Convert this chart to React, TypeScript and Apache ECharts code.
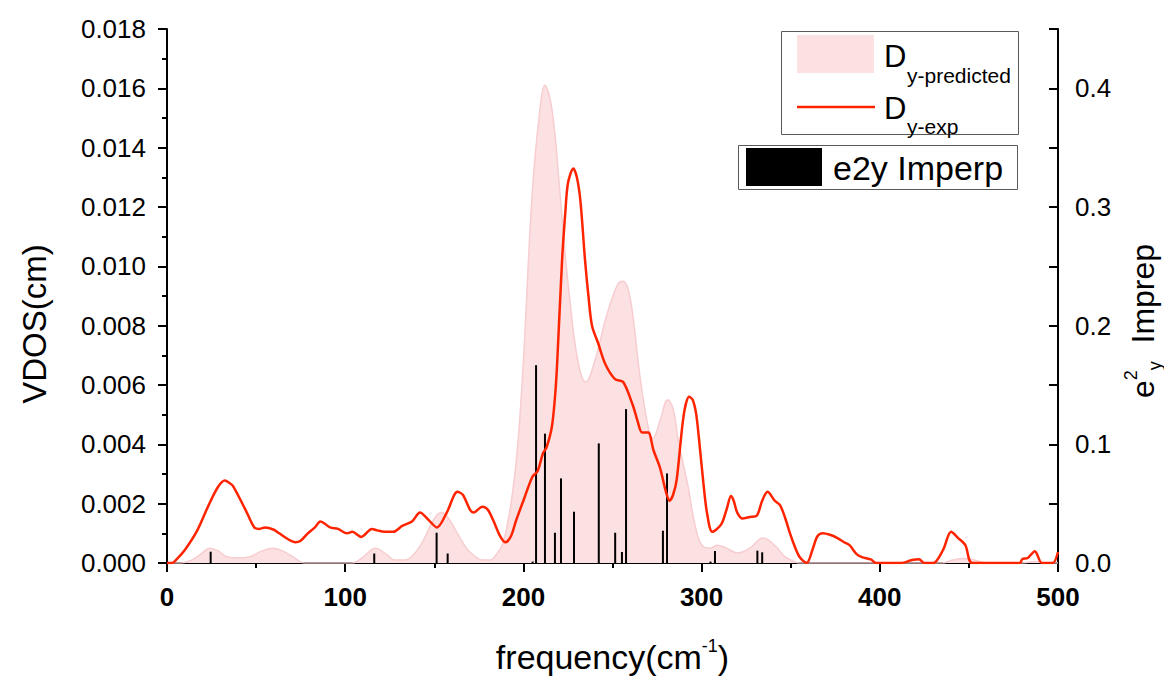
import React, { useEffect, useRef } from "react";
import * as echarts from "echarts";

const FONT = '"Liberation Sans", Arial, Helvetica, sans-serif';

// x tick values (cm^-1)
const xTicks = [0, 100, 200, 300, 400, 500];

// D_y-exp (red line): [frequency, VDOS]
const expData: [number, number][] = [
  [0, 0], [3, 0], [5, 0.0001], [10, 0.00044], [17, 0.0011], [23, 0.0019], [28.6, 0.00256],
  [32.5, 0.00278], [35, 0.0027], [37, 0.0026], [44, 0.0018], [49, 0.0012], [52, 0.00115],
  [55, 0.0012], [60, 0.00112], [63, 0.001], [68, 0.0008], [72, 0.0007], [75, 0.00075],
  [79, 0.001], [83, 0.0012], [86, 0.0014], [88, 0.00135], [91.5, 0.0012], [96, 0.00115],
  [101, 0.001], [104, 0.00105], [109, 0.00088], [115, 0.00115], [118, 0.0011], [122, 0.00105],
  [127, 0.00105], [132, 0.00125], [137.5, 0.0014], [142, 0.0017], [146, 0.0015], [151.5, 0.0012],
  [157, 0.0017], [163, 0.0024], [166, 0.0023], [170, 0.0018], [172, 0.0017], [177, 0.0019],
  [180, 0.0018], [183, 0.00145], [187, 0.0009], [190, 0.0007], [193, 0.0009], [196, 0.00145],
  [200, 0.0021], [205, 0.0029], [208, 0.0031], [211, 0.0037], [213, 0.0039], [216, 0.0046],
  [218, 0.0058], [219, 0.0068], [221.7, 0.0102], [223.5, 0.0118], [225, 0.0128], [228, 0.0133],
  [230, 0.013], [232, 0.0122], [234.6, 0.0102], [236.5, 0.009], [238.5, 0.008], [242, 0.0074],
  [246, 0.0067], [251.4, 0.0062], [256, 0.0061], [261.5, 0.0053], [264, 0.0048], [266.6, 0.0044],
  [270, 0.0044], [273, 0.0038], [276.7, 0.0032], [280, 0.0024], [282, 0.0021], [284, 0.0023],
  [286, 0.0028], [290, 0.005], [293, 0.0056], [295, 0.0055], [297, 0.005], [299, 0.0039],
  [301, 0.0027], [303, 0.0017], [306, 0.00105], [311, 0.0013], [314, 0.0018], [316.5, 0.00226],
  [318, 0.0021], [320, 0.0017], [323, 0.0015], [327, 0.00155], [331, 0.0016], [334, 0.0021],
  [337, 0.0024], [341, 0.0021], [344, 0.00195], [347, 0.0015], [349.6, 0.001], [352, 0.0006],
  [355, 0.0002], [359, 0], [362.5, 0.0005], [365, 0.0009], [368, 0.001], [372, 0.00095],
  [376, 0.00085], [380, 0.0007], [383, 0.0006], [387, 0.0003], [390, 0.0002], [395, 0.00012],
  [398, 0], [412, 0], [418, 0.0001], [422, 0.00013], [425, 0], [430, 0], [435.5, 0.00044],
  [440, 0.00105], [444, 0.00084], [448, 0.0006], [452, 0], [478.5, 0], [480, 0.00013],
  [483, 0.00017], [487, 0.0004], [491, 0], [497, 0], [500, 0.00037],
];

// D_y-predicted (pink area): [frequency, VDOS]
const predData: [number, number][] = [
  [0, 0], [8, 0], [14, 0.0001], [19, 0.0003], [24, 0.0005], [29, 0.0004], [34, 0.0002],
  [40, 0.00017], [46, 0.0002], [53, 0.0004], [59.5, 0.0005], [65, 0.0004], [71, 0.0002],
  [77, 0], [104, 0], [110, 0.0002], [117, 0.0005], [123, 0.0003], [128, 0.0001], [133.5, 0.0001],
  [140, 0.0004], [145, 0.0009], [150, 0.0015], [154, 0.0017], [158, 0.0015], [163, 0.001],
  [168, 0.0005], [172, 0.00027], [177, 0.0001], [181, 0.0001], [185, 0.0003], [188, 0.0006],
  [191, 0.0013], [194, 0.0024], [197, 0.0041], [200, 0.0068], [205, 0.0125], [209.3, 0.0153],
  [212, 0.0161], [216, 0.0153], [220.5, 0.0125], [223, 0.0107], [226, 0.0089], [230.6, 0.0068],
  [235, 0.0061], [240, 0.0068], [247, 0.0084], [253, 0.0094], [256, 0.0095], [260, 0.0089],
  [265.4, 0.0063], [270, 0.0046], [272.7, 0.0042], [276.7, 0.0048], [281, 0.0055], [284, 0.0052],
  [287, 0.0041], [292, 0.0027], [297, 0.0011], [301, 0.00054], [305, 0.0005], [308.6, 0.0006],
  [314, 0.0005], [320, 0.00034], [327, 0.0005], [334.5, 0.00084], [342, 0.00054], [346, 0.00025],
  [350, 0.0001], [355, 0], [435, 0], [441, 0.0001], [447, 0.00015], [453, 0.0001], [460, 0],
  [480, 0], [487, 0.00005], [493, 0], [500, 0],
];

// e2y Imperp (black sticks, right axis): [frequency, value]
const stickData: [number, number][] = [
  [24.5, 0.0095], [116.3, 0.008], [151.3, 0.0255], [157.5, 0.008], [205.2, 0.0012],
  [207.1, 0.1667], [212.1, 0.109], [217.7, 0.0255], [221.1, 0.0713], [228.4, 0.0432],
  [242.3, 0.1008], [251.5, 0.0255], [255.3, 0.0093], [257.6, 0.1297], [278.3, 0.0272],
  [280.6, 0.0755], [305, 0.0012], [307.5, 0.0101], [331.3, 0.0104], [334, 0.009],
];

const PINK = "#fbe1e2";
const PINK_EDGE = "#f7cdd0";
const RED = "#ff2400";

export default function App() {
  const ref = useRef<HTMLDivElement>(null);
  useEffect(() => {
    if (!ref.current) return;
    const chart = echarts.init(ref.current, undefined, { renderer: "svg" });
    const option: any = {
      animation: false,
      backgroundColor: "#ffffff",
      textStyle: { fontFamily: FONT },
      grid: { left: 167, right: 106, top: 29, bottom: 114, outerBoundsMode: "none" },
      xAxis: {
        type: "value",
        min: xTicks[0],
        max: xTicks[xTicks.length - 1],
        interval: 100,
        splitLine: { show: false },
        axisLine: { onZero: false, lineStyle: { color: "#000", width: 2 } },
        axisTick: { length: 9, lineStyle: { color: "#000", width: 2 } },
        minorTick: { show: true, splitNumber: 2, length: 5, lineStyle: { color: "#000", width: 2 } },
        minorSplitLine: { show: false },
        axisLabel: { fontFamily: FONT, fontSize: 26, fontWeight: "bold", color: "#000", margin: 21 },
        name: "frequency(cm{sup|-1})",
        nameLocation: "middle",
        nameGap: 74,
        nameTextStyle: {
          fontFamily: FONT,
          fontSize: 34,
          color: "#000",
          lineHeight: 40,
          rich: {
            sup: { fontFamily: FONT, fontSize: 18, color: "#000", verticalAlign: "top", lineHeight: 40 },
          },
        },
      },
      yAxis: [
        {
          type: "value",
          min: 0,
          max: 0.018,
          interval: 0.002,
          position: "left",
          splitLine: { show: false },
          axisLine: { show: true, onZero: false, lineStyle: { color: "#000", width: 2 } },
          axisTick: { show: true, length: 9, lineStyle: { color: "#000", width: 2 } },
          minorTick: { show: true, splitNumber: 2, length: 5, lineStyle: { color: "#000", width: 2 } },
          axisLabel: {
            fontFamily: FONT,
            fontSize: 26,
            color: "#000",
            margin: 21,
            formatter: (v: number) => v.toFixed(3),
          },
          name: "VDOS(cm)",
          nameLocation: "middle",
          nameRotate: 90,
          nameGap: 116,
          nameTextStyle: { fontFamily: FONT, fontSize: 33, color: "#000", padding: [0, 56, 0, 0] },
        },
        {
          type: "value",
          min: 0,
          max: 0.45,
          interval: 0.05,
          position: "right",
          splitLine: { show: false },
          axisLine: { show: true, onZero: false, lineStyle: { color: "#000", width: 2 } },
          axisTick: { show: true, inside: true, length: 9, lineStyle: { color: "#000", width: 2 } },
          axisLabel: {
            fontFamily: FONT,
            fontSize: 26,
            color: "#000",
            margin: 17,
            formatter: (v: number) => {
              const t = Math.round(v * 100);
              return t % 10 === 0 && t <= 40 ? v.toFixed(1) : "";
            },
          },
          name: "e{sup|2}{sub|y}  Imprep",
          nameLocation: "middle",
          nameRotate: 90,
          nameGap: 58,
          nameTextStyle: {
            fontFamily: FONT,
            fontSize: 32,
            color: "#000",
            lineHeight: 42,
            padding: [0, 50, 0, 0],
            rich: {
              sup: { fontFamily: FONT, fontSize: 18, color: "#000", verticalAlign: "top", lineHeight: 42 },
              sub: { fontFamily: FONT, fontSize: 18, color: "#000", verticalAlign: "bottom", lineHeight: 42 },
            },
          },
        },
      ],
      series: [
        {
          name: "Dy-predicted",
          type: "line",
          data: predData,
          smooth: 0.4,
          symbol: "none",
          lineStyle: { color: PINK_EDGE, width: 1.5 },
          areaStyle: { color: PINK, opacity: 1 },
          yAxisIndex: 0,
          z: 1,
        },
        {
          name: "e2y Imperp",
          type: "bar",
          data: stickData,
          yAxisIndex: 1,
          barWidth: 2,
          itemStyle: { color: "#000" },
          z: 2,
        },
        {
          name: "Dy-exp",
          type: "line",
          data: expData,
          smooth: 0.3,
          symbol: "none",
          lineStyle: { color: RED, width: 2.5 },
          yAxisIndex: 0,
          z: 3,
        },
      ],
      graphic: [
        {
          type: "group",
          z: 100,
          children: [
            { type: "rect", shape: { x: 781.5, y: 31.5, width: 237, height: 103 }, style: { fill: "#fff", stroke: "#5a5a5a", lineWidth: 1 } },
            { type: "rect", shape: { x: 797, y: 35, width: 77, height: 38 }, style: { fill: PINK } },
            { type: "text", x: 884, y: 56, style: { text: "D", font: `31px ${FONT}`, fill: "#000", verticalAlign: "middle" } },
            { type: "text", x: 907, y: 75, style: { text: "y-predicted", font: `21px ${FONT}`, fill: "#000", verticalAlign: "middle" } },
            { type: "line", shape: { x1: 797, y1: 107, x2: 875, y2: 107 }, style: { stroke: RED, lineWidth: 2.5 } },
            { type: "text", x: 884, y: 108, style: { text: "D", font: `31px ${FONT}`, fill: "#000", verticalAlign: "middle" } },
            { type: "text", x: 907, y: 126, style: { text: "y-exp", font: `21px ${FONT}`, fill: "#000", verticalAlign: "middle" } },
            { type: "rect", shape: { x: 738.5, y: 145.5, width: 279, height: 44 }, style: { fill: "#fff", stroke: "#5a5a5a", lineWidth: 1 } },
            { type: "rect", shape: { x: 746, y: 148, width: 76, height: 38 }, style: { fill: "#000" } },
            { type: "text", x: 833, y: 168, style: { text: "e2y Imperp", font: `34px ${FONT}`, fill: "#000", verticalAlign: "middle" } },
          ],
        },
      ],
    };
    chart.setOption(option);
    return () => chart.dispose();
  }, []);
  return (
    <div
      ref={ref}
      style={{ position: "absolute", left: 0, top: 0, width: 1164, height: 677, background: "#fff" }}
    />
  );
}
